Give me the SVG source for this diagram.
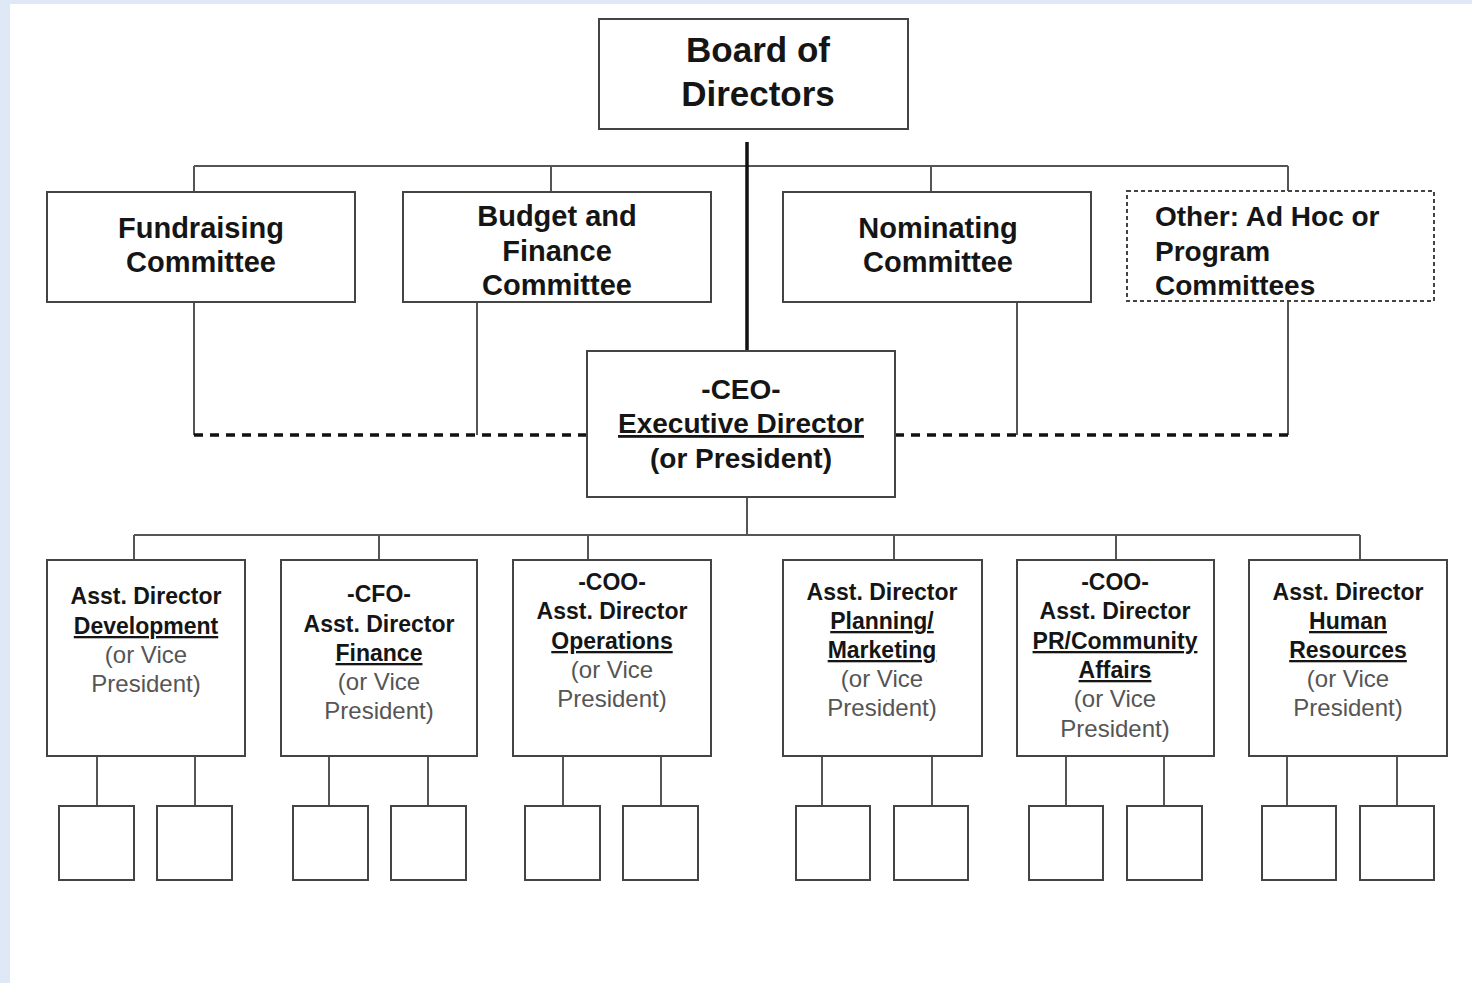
<svg xmlns="http://www.w3.org/2000/svg" width="1472" height="983" viewBox="0 0 1472 983">
<style>
.box{fill:#fff;stroke:#444;stroke-width:2}
.dbox{fill:#fff;stroke:#444;stroke-width:2;stroke-dasharray:4 3}
.ln{stroke:#555;stroke-width:2;fill:none}
.thick{stroke:#111;stroke-width:3.5;fill:none}
.dash{stroke:#111;stroke-width:3.5;fill:none;stroke-dasharray:9 7}
text{font-family:"Liberation Sans",Arial,sans-serif;text-anchor:middle;fill:#151515}
.t35{font-size:35px;font-weight:bold}
.t29{font-size:29px;font-weight:bold}
.t28{font-size:28px;font-weight:bold}
.b{font-size:23px;font-weight:bold}
.u{text-decoration:underline}
.r{font-size:24px;fill:#555}
</style>
<rect x="0" y="0" width="1472" height="983" fill="#dfe9f6"/>
<rect x="10" y="4" width="1462" height="979" fill="#fff"/>

<g id="connectors">
  <path class="ln" d="M194 166H1288M194 166V192M551 166V192M931 166V192M1288 166V192"/>
  <path class="thick" d="M747 142V351"/>
  <path class="ln" d="M194 302V435M477 302V435M1017 302V435M1288 300V435"/>
  <path class="dash" d="M194 435H587M895 435H1288"/>
  <path class="ln" d="M747 497V535M134 535H1360M134 535V560M379 535V560M588 535V560M894 535V560M1116 535V560M1360 535V560"/>
  <path class="ln" d="M97 756V806M195 756V806M329 756V806M428 756V806M563 756V806M661 756V806M822 756V806M932 756V806M1066 756V806M1164 756V806M1287 756V806M1397 756V806"/>
</g>

<g id="board">
  <rect class="box" x="599" y="19" width="309" height="110"/>
  <text class="t35" x="758" y="62">Board of</text>
  <text class="t35" x="758" y="106">Directors</text>
</g>

<g id="fundraising">
  <rect class="box" x="47" y="192" width="308" height="110"/>
  <text class="t29" x="201" y="238">Fundraising</text>
  <text class="t29" x="201" y="272">Committee</text>
</g>
<g id="budget">
  <rect class="box" x="403" y="192" width="308" height="110"/>
  <text class="t29" x="557" y="226">Budget and</text>
  <text class="t29" x="557" y="261">Finance</text>
  <text class="t29" x="557" y="295">Committee</text>
</g>
<g id="nominating">
  <rect class="box" x="783" y="192" width="308" height="110"/>
  <text class="t29" x="938" y="238">Nominating</text>
  <text class="t29" x="938" y="272">Committee</text>
</g>
<g id="other">
  <rect class="dbox" x="1127" y="191" width="307" height="110"/>
  <text class="t28" x="1155" y="226" style="text-anchor:start">Other: Ad Hoc or</text>
  <text class="t28" x="1155" y="261" style="text-anchor:start">Program</text>
  <text class="t28" x="1155" y="295" style="text-anchor:start">Committees</text>
</g>

<g id="ceo">
  <rect class="box" x="587" y="351" width="308" height="146"/>
  <text class="t28" x="741" y="399">-CEO-</text>
  <text class="t28 u" x="741" y="433">Executive Director</text>
  <text class="t28" x="741" y="468">(or President)</text>
</g>

<g id="vp-development">
  <rect class="box" x="47" y="560" width="198" height="196"/>
  <text class="b" x="146" y="604">Asst. Director</text>
  <text class="b u" x="146" y="634">Development</text>
  <text class="r" x="146" y="663">(or Vice</text>
  <text class="r" x="146" y="692">President)</text>
</g>
<g id="vp-finance">
  <rect class="box" x="281" y="560" width="196" height="196"/>
  <text class="b" x="379" y="602">-CFO-</text>
  <text class="b" x="379" y="632">Asst. Director</text>
  <text class="b u" x="379" y="661">Finance</text>
  <text class="r" x="379" y="690">(or Vice</text>
  <text class="r" x="379" y="719">President)</text>
</g>
<g id="vp-operations">
  <rect class="box" x="513" y="560" width="198" height="196"/>
  <text class="b" x="612" y="590">-COO-</text>
  <text class="b" x="612" y="619">Asst. Director</text>
  <text class="b u" x="612" y="649">Operations</text>
  <text class="r" x="612" y="678">(or Vice</text>
  <text class="r" x="612" y="707">President)</text>
</g>
<g id="vp-planning">
  <rect class="box" x="783" y="560" width="199" height="196"/>
  <text class="b" x="882" y="600">Asst. Director</text>
  <text class="b u" x="882" y="629">Planning/</text>
  <text class="b u" x="882" y="658">Marketing</text>
  <text class="r" x="882" y="687">(or Vice</text>
  <text class="r" x="882" y="716">President)</text>
</g>
<g id="vp-pr">
  <rect class="box" x="1017" y="560" width="197" height="196"/>
  <text class="b" x="1115" y="590">-COO-</text>
  <text class="b" x="1115" y="619">Asst. Director</text>
  <text class="b u" x="1115" y="649">PR/Community</text>
  <text class="b u" x="1115" y="678">Affairs</text>
  <text class="r" x="1115" y="707">(or Vice</text>
  <text class="r" x="1115" y="737">President)</text>
</g>
<g id="vp-hr">
  <rect class="box" x="1249" y="560" width="198" height="196"/>
  <text class="b" x="1348" y="600">Asst. Director</text>
  <text class="b u" x="1348" y="629">Human</text>
  <text class="b u" x="1348" y="658">Resources</text>
  <text class="r" x="1348" y="687">(or Vice</text>
  <text class="r" x="1348" y="716">President)</text>
</g>

<g id="staff">
  <rect class="box" x="59" y="806" width="75" height="74"/>
  <rect class="box" x="157" y="806" width="75" height="74"/>
  <rect class="box" x="293" y="806" width="75" height="74"/>
  <rect class="box" x="391" y="806" width="75" height="74"/>
  <rect class="box" x="525" y="806" width="75" height="74"/>
  <rect class="box" x="623" y="806" width="75" height="74"/>
  <rect class="box" x="796" y="806" width="74" height="74"/>
  <rect class="box" x="894" y="806" width="74" height="74"/>
  <rect class="box" x="1029" y="806" width="74" height="74"/>
  <rect class="box" x="1127" y="806" width="75" height="74"/>
  <rect class="box" x="1262" y="806" width="74" height="74"/>
  <rect class="box" x="1360" y="806" width="74" height="74"/>
</g>
</svg>
